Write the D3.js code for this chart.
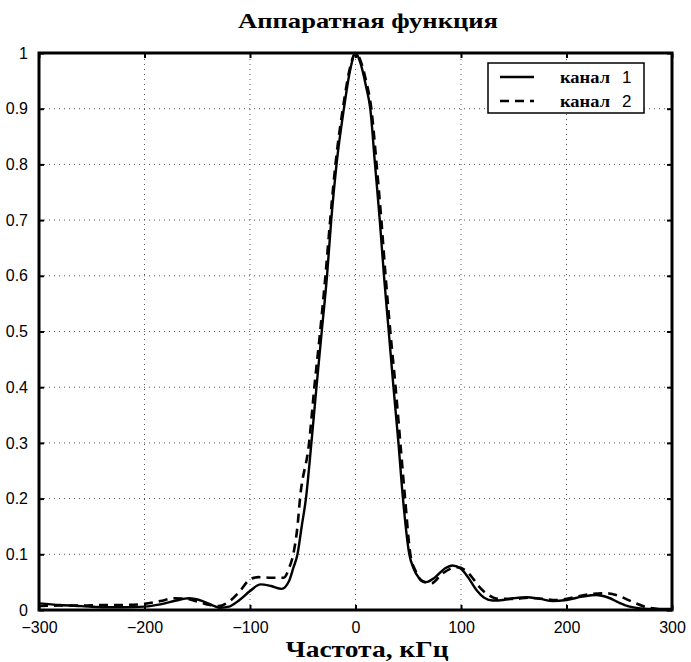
<!DOCTYPE html>
<html lang="ru">
<head>
	<meta charset="utf-8"/>
	<title>Аппаратная функция</title>
	<script src="https://d3js.org/d3.v7.min.js"></script>
	<style>
		body { margin: 0; background: #fff; }
		.axis text { font-family: "Liberation Sans", Arial, sans-serif; font-size: 16px; fill: #000; }
		.axis .domain { display: none; }
		.grid line { stroke: #555; stroke-width: 1; stroke-dasharray: 1,4; }
		.ttl { font-family: "Liberation Serif", "Times New Roman", serif; font-weight: bold; }
	</style>
</head>
<body>
<div id="chart"></div>
<script>
	// frequency (kHz) and amplitude
	var freq1 = [-300,-280,-260,-240,-220,-200,-185,-170,-158,-145,-135,-128,-120,-110,-100,-90,-80,-70,-63,-59,-55,-51,-47,-41.8,-37,-32,-27,-23,-18,-11,-5,0,
		5,10,14,18.5,23,27,31.5,36,40.7,45,51,55,60,67,75,85,92,100,108,115,122,130,140,150,162,175,187,200,215,228,240,250,260,270,285,300];
	var chan1 = [0.012,0.009,0.007,0.005,0.005,0.006,0.010,0.017,0.021,0.016,0.008,0.004,0.006,0.018,0.034,0.046,0.043,0.038,0.052,0.075,0.1,0.15,0.2,0.3,0.4,0.5,0.6,0.7,0.8,0.9,0.97,1.0,
		0.98,0.94,0.9,0.8,0.7,0.6,0.5,0.4,0.3,0.2,0.1,0.075,0.058,0.05,0.058,0.075,0.08,0.074,0.055,0.035,0.022,0.017,0.018,0.021,0.023,0.02,0.016,0.018,0.024,0.027,0.022,0.013,0.006,0.003,0.002,0.002];

	var freq2 = [-300,-280,-260,-240,-220,-200,-185,-172,-160,-148,-138,-130,-120,-110,-100,-92,-80,-68,-63,-59,-55,-52.6,-44,-39,-33.5,-28.5,-24,-19,-12,-5,0,
		5,10,15,20,24.5,28.5,33,38,42.5,47,52,57,63,72,82,96,105,112,118,126,135,150,165,178,190,205,220,238,250,262,276,290,300];
	var chan2 = [0.007,0.008,0.008,0.009,0.009,0.011,0.016,0.021,0.02,0.014,0.009,0.007,0.015,0.033,0.055,0.059,0.058,0.058,0.075,0.1,0.15,0.2,0.3,0.4,0.5,0.6,0.7,0.8,0.9,0.975,1.0,
		0.985,0.95,0.9,0.8,0.7,0.6,0.5,0.4,0.3,0.2,0.1,0.07,0.052,0.048,0.065,0.077,0.07,0.055,0.04,0.027,0.02,0.02,0.022,0.02,0.018,0.022,0.028,0.03,0.025,0.015,0.005,0.001,0.0];

	var xTicks = [-300,-200,-100,0,100,200,300];
	var yTicks = [0,0.1,0.2,0.3,0.4,0.5,0.6,0.7,0.8,0.9,1];
	var legendLabels = ["канал", "канал"];
	var legendNums = ["1", "2"];

	var width = 691, height = 662;
	var m = {left: 39, right: 19, top: 53, bottom: 52};

	var svg = d3.select("#chart").append("svg")
		.attr("width", width)
		.attr("height", height);

	var x = d3.scaleLinear().domain([-300, 300]).range([m.left, width - m.right]);
	var y = d3.scaleLinear().domain([0, 1]).range([height - m.bottom, m.top]);

	// dotted grid
	var grid = svg.append("g").attr("class", "grid");
	grid.selectAll(".gx").data(xTicks.slice(1, -1)).enter().append("line")
		.attr("x1", function(d) { return x(d); }).attr("x2", function(d) { return x(d); })
		.attr("y1", y(0)).attr("y2", y(1));
	grid.selectAll(".gy").data(yTicks.slice(1, -1)).enter().append("line")
		.attr("y1", function(d) { return y(d); }).attr("y2", function(d) { return y(d); })
		.attr("x1", x(-300)).attr("x2", x(300));

	// axes, ticks pointing inwards
	svg.append("g").attr("class", "axis")
		.attr("transform", "translate(0," + y(0) + ")")
		.call(d3.axisBottom(x).tickValues(xTicks).tickSizeInner(-5).tickSizeOuter(0).tickPadding(12))
		.selectAll("line").attr("stroke-width", 2);
	svg.append("g").attr("class", "axis")
		.attr("transform", "translate(0," + y(1) + ")")
		.call(d3.axisTop(x).tickValues(xTicks).tickSizeInner(-5).tickSizeOuter(0).tickFormat(""))
		.selectAll("line").attr("stroke-width", 2);
	svg.append("g").attr("class", "axis")
		.attr("transform", "translate(" + x(-300) + ",0)")
		.call(d3.axisLeft(y).tickValues(yTicks).tickSizeInner(-5).tickSizeOuter(0).tickPadding(11).tickFormat(d3.format("")))
		.selectAll("line").attr("stroke-width", 2);
	svg.append("g").attr("class", "axis")
		.attr("transform", "translate(" + x(300) + ",0)")
		.call(d3.axisRight(y).tickValues(yTicks).tickSizeInner(-5).tickSizeOuter(0).tickFormat(""))
		.selectAll("line").attr("stroke-width", 2);

	// curves
	var line = d3.line().curve(d3.curveMonotoneX)
		.x(function(d) { return x(d[0]); })
		.y(function(d) { return y(d[1]); });

	svg.append("path")
		.datum(d3.zip(freq2, chan2))
		.attr("fill", "none").attr("stroke", "#000")
		.attr("stroke-width", 2.6).attr("stroke-dasharray", "9,6")
		.attr("d", line);
	svg.append("path")
		.datum(d3.zip(freq1, chan1))
		.attr("fill", "none").attr("stroke", "#000")
		.attr("stroke-width", 2.4)
		.attr("d", line);

	// frame
	svg.append("rect")
		.attr("x", x(-300)).attr("y", y(1))
		.attr("width", x(300) - x(-300)).attr("height", y(0) - y(1))
		.attr("fill", "none").attr("stroke", "#000").attr("stroke-width", 3);

	// legend
	var lg = svg.append("g").attr("transform", "translate(488,63)");
	lg.append("rect").attr("width", 156).attr("height", 50)
		.attr("fill", "#fff").attr("stroke", "#000").attr("stroke-width", 1.5);
	var items = lg.selectAll(".it").data(legendLabels).enter().append("g")
		.attr("transform", function(d, i) { return "translate(0," + (14 + i * 24) + ")"; });
	items.append("line")
		.attr("x1", 12).attr("x2", 46)
		.attr("stroke", "#000").attr("stroke-width", 2.6)
		.attr("stroke-dasharray", function(d, i) { return i ? "9,6" : null; });
	items.append("text").attr("class", "ttl")
		.attr("x", 72).attr("dy", "0.35em")
		.attr("font-size", 16)
		.attr("textLength", 50).attr("lengthAdjust", "spacingAndGlyphs")
		.text(function(d) { return d; });
	items.append("text")
		.attr("x", 134).attr("dy", "0.35em")
		.attr("font-family", "Liberation Sans, Arial, sans-serif")
		.attr("font-size", 17)
		.text(function(d, i) { return legendNums[i]; });

	// titles
	svg.append("text").attr("class", "ttl")
		.attr("x", 368).attr("y", 28)
		.attr("text-anchor", "middle").attr("font-size", 22)
		.attr("textLength", 260).attr("lengthAdjust", "spacingAndGlyphs")
		.text("Аппаратная функция");
	svg.append("text").attr("class", "ttl")
		.attr("x", 367).attr("y", 657)
		.attr("text-anchor", "middle").attr("font-size", 24)
		.attr("textLength", 163).attr("lengthAdjust", "spacingAndGlyphs")
		.text("Частота, кГц");
</script>
</body>
</html>
